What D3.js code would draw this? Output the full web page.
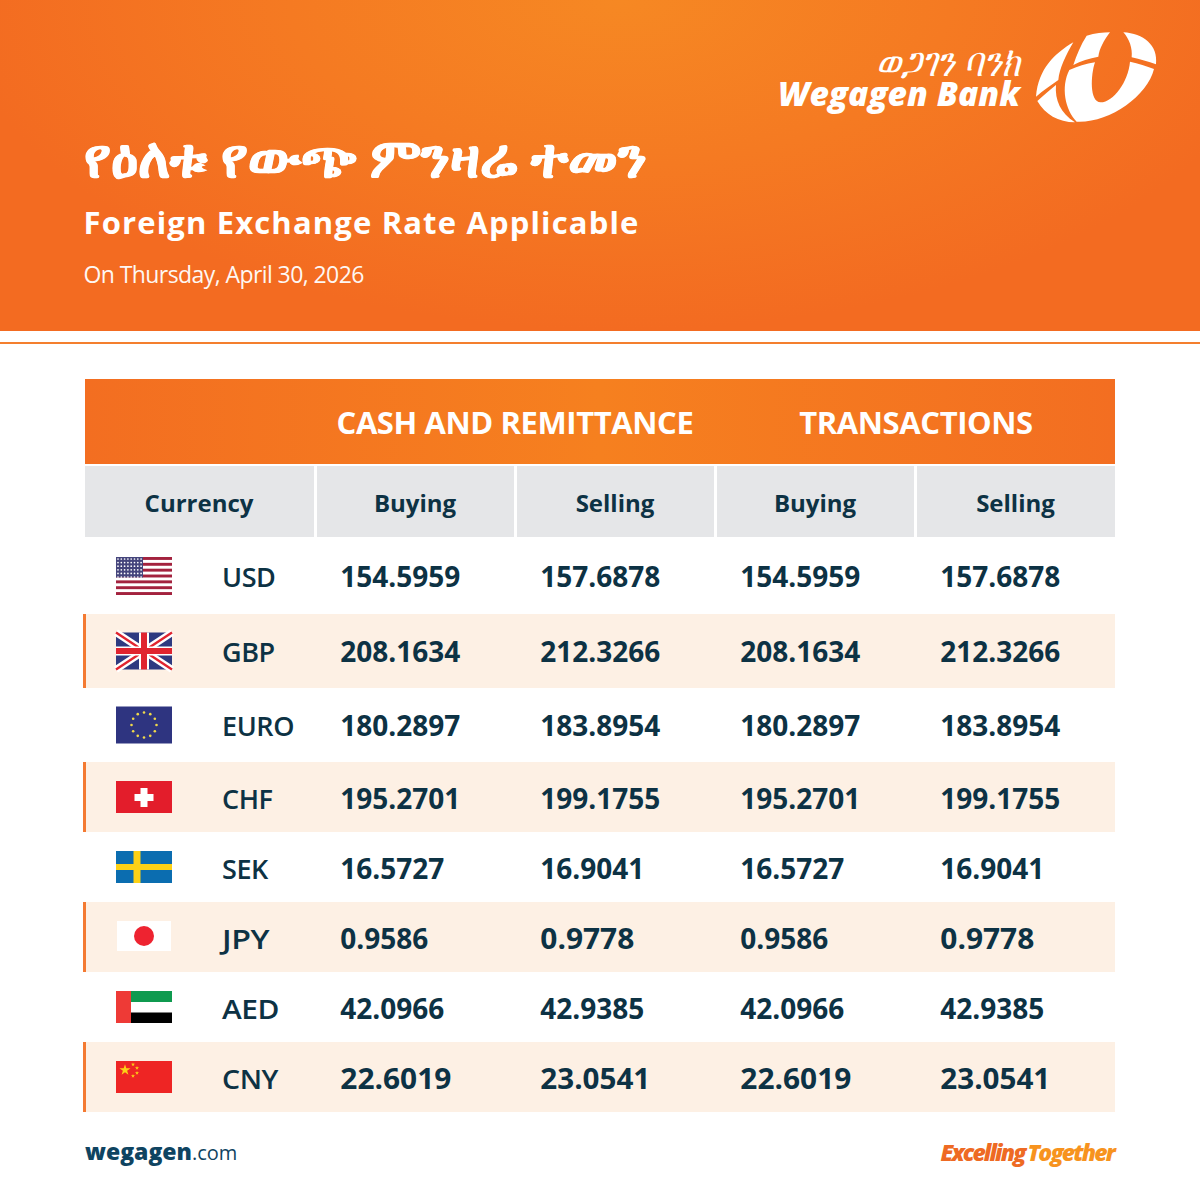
<!DOCTYPE html>
<html>
<head>
<meta charset="utf-8">
<script src="https://cdn.jsdelivr.net/npm/d3@7"></script>
<style>
  html, body { margin: 0; padding: 0; background: #fff; }
  svg { display: block; }
  text { font-family: "Open Sans", "Noto Sans", sans-serif; }
</style>
</head>
<body>
<svg id="root"></svg>
<script>
const currencies = ["USD", "GBP", "EURO", "CHF", "SEK", "JPY", "AED", "CNY"];
const cashBuying = ["154.5959", "208.1634", "180.2897", "195.2701", "16.5727", "0.9586", "42.0966", "22.6019"];
const cashSelling = ["157.6878", "212.3266", "183.8954", "199.1755", "16.9041", "0.9778", "42.9385", "23.0541"];
const txBuying = ["154.5959", "208.1634", "180.2897", "195.2701", "16.5727", "0.9586", "42.0966", "22.6019"];
const txSelling = ["157.6878", "212.3266", "183.8954", "199.1755", "16.9041", "0.9778", "42.9385", "23.0541"];
const columnLabels = ["Currency", "Buying", "Selling", "Buying", "Selling"];
const groupLabels = ["CASH AND REMITTANCE", "TRANSACTIONS"];

const svg = d3.select("#root").attr("width", 1200).attr("height", 1200);
const navy = "#0d3244";

// row tops are not even in the picture, first three rows are taller
const rowY = d3.scaleOrdinal().domain(currencies).range([540, 614, 688, 762, 832, 902, 972, 1042]);
const rowH = d3.scaleOrdinal().domain(currencies).range([74, 74, 74, 70, 70, 70, 70, 70]);
const flagH = d3.scaleOrdinal().domain(currencies).range([38, 37, 37, 32, 32, 30, 32, 32]);
const colX = d3.scaleBand().domain(d3.range(4)).range([317, 1117]);
const baseline = (d) => (d === "USD" ? 47 : rowH(d) === 74 ? 48 : 47);

// a few cells are set wider in the original artwork
const wideText = { JPY: 47, AED: 57, CNY: 56, "0.9778": 94, "22.6019": 111, "23.0541": 110 };

const defs = svg.append("defs");
function gradient(id, stops, attrs) {
  const g = defs.append("linearGradient").attr("id", id);
  Object.entries(attrs).forEach(([k, v]) => g.attr(k, v));
  stops.forEach((s) => g.append("stop").attr("offset", s[0]).attr("stop-color", s[1]));
}
const banner = defs.append("radialGradient").attr("id", "banner").attr("gradientUnits", "userSpaceOnUse")
  .attr("cx", 0).attr("cy", 0).attr("r", 660)
  .attr("gradientTransform", "translate(620,0) scale(1,0.5)");
[[0, "#f68823"], [0.5, "#f57a22"], [1, "#f36b21"]].forEach((s) =>
  banner.append("stop").attr("offset", s[0]).attr("stop-color", s[1]));
gradient("thead", [[0, "#f36e21"], [0.5, "#f6801f"], [1, "#f36e21"]], { x1: 0, x2: 1, y1: 0, y2: 0 });

// banner
svg.append("rect").attr("width", 1200).attr("height", 331).attr("fill", "url(#banner)");
svg.append("rect").attr("y", 342).attr("width", 1200).attr("height", 2).attr("fill", "#f47f2e");

svg.append("text").attr("x", 84).attr("y", 177).attr("fill", "#fff")
  .attr("font-size", 54.5).attr("font-weight", 700)
  .attr("stroke", "#fff").attr("stroke-width", 0.8)
  .attr("font-family", "'Noto Sans', 'DejaVu Sans', sans-serif")
  .text("የዕለቱ የውጭ ምንዛሬ ተመን");
svg.append("text").attr("x", 83.5).attr("y", 234).attr("fill", "#fff")
  .attr("font-size", 31).attr("font-weight", 700).attr("letter-spacing", 1.15)
  .text("Foreign Exchange Rate Applicable");
svg.append("text").attr("x", 83.5).attr("y", 283).attr("fill", "#fff")
  .attr("font-size", 23).attr("font-weight", 400).attr("letter-spacing", -0.58).attr("opacity", 0.95)
  .text("On Thursday, April 30, 2026");

// logo
svg.append("text").attr("transform", "translate(1020,76) scale(1.03,1.25)")
  .attr("text-anchor", "end").attr("fill", "#fff").attr("font-size", 33).attr("font-style", "italic")
  .attr("font-family", "'Noto Sans', 'DejaVu Sans', sans-serif").text("ወጋገን ባንክ");
svg.append("text").attr("x", 778).attr("y", 106).attr("fill", "#fff")
  .attr("font-size", 33).attr("font-weight", 900).attr("font-style", "italic")
  .attr("font-family", "Roboto, 'Liberation Sans', sans-serif")
  .attr("textLength", 242).attr("lengthAdjust", "spacingAndGlyphs")
  .text("Wegagen Bank");
// emblem, traced in crop pixels at 3x
const emblemPieces = [
  "M130,52 C75,85 25,130 18,215 C40,195 65,180 85,165 C88,130 108,90 130,52Z",
  "M170,32 C195,25 220,22 240,22 C222,45 208,72 205,95 C178,100 152,108 130,120 C140,90 152,60 170,32Z",
  "M280,22 C340,26 385,60 378,118 C355,110 330,102 305,97 C308,70 298,42 280,22Z",
  "M118,135 C142,125 168,116 195,112 C182,150 178,232 212,232 C250,232 295,170 300,110 C325,115 350,123 372,132 C352,215 235,295 140,290 C105,255 92,185 118,135Z",
  "M22,228 C40,212 58,196 78,180 C74,225 92,265 135,292 C85,292 45,268 22,228Z",
];
svg.append("g").attr("transform", "translate(1030,25) scale(0.3333)")
  .selectAll("path").data(emblemPieces).enter().append("path")
  .attr("d", (d) => d).attr("fill", "#fff");

// table header
svg.append("rect").attr("x", 85).attr("y", 379).attr("width", 1030).attr("height", 85).attr("fill", "url(#thead)");
svg.selectAll(".group").data(groupLabels).enter().append("text")
  .attr("class", "group").attr("x", (d, i) => (i ? 916 : 515)).attr("y", 434)
  .attr("text-anchor", "middle").attr("fill", "#fff").attr("font-size", 31).attr("font-weight", 700)
  .attr("letter-spacing", -0.4)
  .text((d) => d);

const headX = [85, 317, 517, 717, 917];
const headW = [229, 197, 197, 197, 198];
svg.selectAll(".head").data(columnLabels).enter().append("rect")
  .attr("class", "head").attr("x", (d, i) => headX[i]).attr("y", 466)
  .attr("width", (d, i) => headW[i]).attr("height", 71).attr("fill", "#e5e6e8");
svg.selectAll(".head-text").data(columnLabels).enter().append("text")
  .attr("class", "head-text").attr("x", (d, i) => headX[i] + headW[i] / 2 - 0.5).attr("y", 511.5)
  .attr("text-anchor", "middle").attr("fill", navy).attr("font-size", 24).attr("font-weight", 700)
  .text((d) => d);

// rows
const rows = svg.selectAll(".row").data(currencies).enter().append("g")
  .attr("class", "row").attr("transform", (d) => `translate(0,${rowY(d)})`);
rows.filter((d, i) => i % 2 === 1).append("rect")
  .attr("x", 83).attr("width", 1032).attr("height", (d) => rowH(d)).attr("fill", "#fdf0e4");
rows.filter((d, i) => i % 2 === 1).append("rect")
  .attr("x", 83).attr("width", 3).attr("height", (d) => rowH(d)).attr("fill", "#f47a32");
rows.append("text").attr("x", 222).attr("y", baseline)
  .attr("fill", navy).attr("font-size", 27).attr("font-weight", 600).attr("letter-spacing", -0.4)
  .attr("textLength", (d) => wideText[d] || null).attr("lengthAdjust", "spacingAndGlyphs")
  .text((d) => d);

[cashBuying, cashSelling, txBuying, txSelling].forEach((series, c) => {
  rows.append("text").attr("x", colX(c) + 23.3).attr("y", baseline)
    .attr("fill", navy).attr("font-size", 28).attr("font-weight", 700)
    .attr("textLength", (d, i) => wideText[series[i]] || null).attr("lengthAdjust", "spacingAndGlyphs")
    .text((d, i) => series[i]);
});

// flags
const flagW = 56;
function box(g, x, y, w, h, fill) {
  g.append("rect").attr("x", x).attr("y", y).attr("width", w).attr("height", h).attr("fill", fill);
}
const flagDraw = {
  USD(g) {
    const h = flagH("USD");
    box(g, 0, 0, flagW, h, "#fff");
    d3.range(13).filter((i) => i % 2 === 0).forEach((i) => box(g, 0, (i * h) / 13, flagW, h / 13, "#a3223e"));
    box(g, 0, 0, 27, (7 * h) / 13, "#45457c");
    d3.range(6).forEach((r) => d3.range(8).forEach((c) =>
      g.append("circle").attr("cx", 2 + c * 3.3).attr("cy", 2 + r * 3.6).attr("r", 0.85).attr("fill", "#fff")));
  },
  GBP(g) {
    const h = flagH("GBP");
    box(g, 0, 0, flagW, h, "#2e3a80");
    const d = `M0,0L${flagW},${h}M${flagW},0L0,${h}`;
    g.append("path").attr("d", d).attr("stroke", "#fff").attr("stroke-width", 7);
    g.append("path").attr("d", d).attr("stroke", "#e0242f").attr("stroke-width", 2.4);
    box(g, 23, 0, 10, h, "#fff"); box(g, 0, 14, flagW, 9, "#fff");
    box(g, 25, 0, 6, h, "#e0242f"); box(g, 0, 15.5, flagW, 6, "#e0242f");
  },
  EURO(g) {
    box(g, 0, 0, flagW, flagH("EURO"), "#2e3480");
    d3.range(12).forEach((i) => {
      const a = (i / 12) * 2 * Math.PI;
      g.append("circle").attr("cx", 28 + 12.5 * Math.cos(a)).attr("cy", 18.5 + 12.5 * Math.sin(a))
        .attr("r", 1.3).attr("fill", "#f0d94a");
    });
  },
  CHF(g) {
    box(g, 0, 0, flagW, 32, "#e31d2b");
    box(g, 24.5, 7, 7, 19, "#fff"); box(g, 18.5, 13, 19, 7, "#fff");
  },
  SEK(g) {
    box(g, 0, 0, flagW, 32, "#0b6db0");
    box(g, 17.5, 0, 7, 32, "#fcd116"); box(g, 0, 13, flagW, 6, "#fcd116");
  },
  JPY(g) {
    box(g, 1, 0, 54, 30, "#fff");
    g.append("circle").attr("cx", 28).attr("cy", 15).attr("r", 10).attr("fill", "#ee2330");
  },
  AED(g) {
    box(g, 0, 0, flagW, 32, "#fff");
    box(g, 15, 0, 41, 11, "#0f9a4f"); box(g, 15, 21.5, 41, 10.5, "#000"); box(g, 0, 0, 15, 32, "#ee3a36");
  },
  CNY(g) {
    box(g, 0, 0, flagW, 32, "#ee2524");
    const star = d3.symbol().type(d3.symbolStar);
    g.append("path").attr("d", star.size(38)()).attr("transform", "translate(9,9)").attr("fill", "#fcd116");
    [[17, 3.5], [21, 7], [21, 12], [17, 15]].forEach((p) =>
      g.append("path").attr("d", star.size(5)()).attr("transform", `translate(${p[0]},${p[1]})`).attr("fill", "#fcd116"));
  },
};
rows.append("g")
  .attr("transform", (d) => `translate(116,${d === "USD" ? 17 : rowH(d) === 74 ? 18.5 : 19})`)
  .each(function (d) { flagDraw[d](d3.select(this)); });

// footer
const site = svg.append("text").attr("x", 85).attr("y", 1160).attr("fill", "#0f4461").attr("font-size", 23);
site.append("tspan").attr("font-weight", 800).text("wegagen");
site.append("tspan").attr("font-size", 20).attr("font-weight", 400).text(".com");
const tag = svg.append("text").attr("x", 1114).attr("y", 1161).attr("text-anchor", "end")
  .attr("font-size", 23).attr("font-weight", 800).attr("font-style", "italic").attr("letter-spacing", -1.85);
tag.append("tspan").attr("fill", "#ee6a23").text("Excelling");
tag.append("tspan").attr("fill", "#f7931e").attr("dx", 3).text("Together");
</script>
</body>
</html>
